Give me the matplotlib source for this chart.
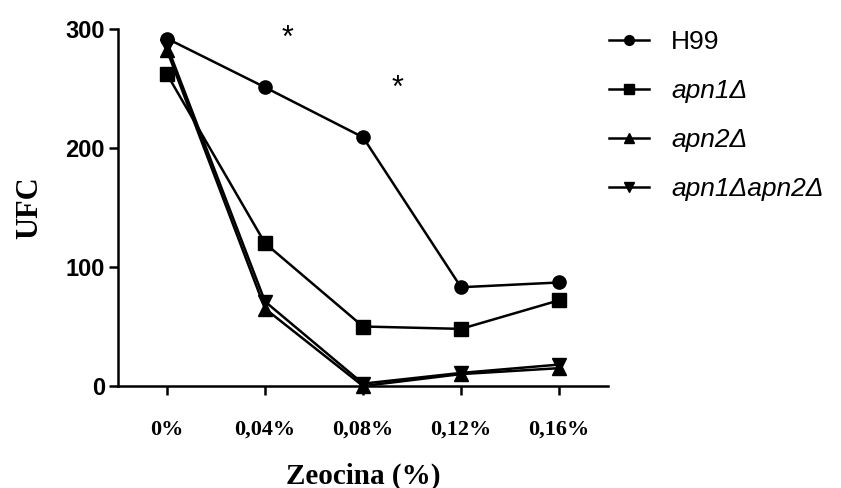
import matplotlib
matplotlib.use("Agg")
import matplotlib.pyplot as plt
from matplotlib.lines import Line2D

categories = ["0%", "0,04%", "0,08%", "0,12%", "0,16%"]
h99 = [292, 251, 209, 83, 87]
apn1 = [262, 120, 50, 48, 72]
apn2 = [282, 65, 0, 10, 15]
apn1apn2 = [286, 71, 2, 11, 18]
series_labels = ["H99", "apn1Δ", "apn2Δ", "apn1Δapn2Δ"]
star_positions = [1.23, 2.35]
star_values = [292, 250]
yticks = [0, 100, 200, 300]

fig = plt.figure(figsize=(8.41, 4.88), dpi=100)
ax = fig.add_axes([0.1403, 0.209, 0.723 - 0.1403, 0.9406 - 0.209])

x = list(range(len(categories)))
markers = ["o", "s", "^", "v"]
data = [h99, apn1, apn2, apn1apn2]
order = [3, 2, 1, 0]
for i in order:
    ax.plot(x, data[i], color="black", lw=1.8, marker=markers[i], ms=9.5,
            clip_on=False, zorder=3 + (3 - i))

for p, v in zip(star_positions, star_values):
    ax.text(p, v, "*", ha="center", va="center", fontsize=22,
            family="Liberation Sans", clip_on=False)

ax.set_xlim(-0.5, 4.5)
ax.set_ylim(0, 300)
ax.set_xticks(x)
ax.set_xticklabels(categories, family="Liberation Serif", fontweight="bold", fontsize=16)
ax.set_yticks(yticks)
ax.set_yticklabels([str(t) for t in yticks], family="Liberation Sans", fontweight="bold", fontsize=17)
ax.tick_params(axis="both", direction="out", length=6.5, width=1.8, color="black")
ax.tick_params(axis="x", pad=18)
ax.tick_params(axis="y", pad=3)
for s in ["top", "right"]:
    ax.spines[s].set_visible(False)
for s in ["left", "bottom"]:
    ax.spines[s].set_linewidth(1.8)

ax.set_xlabel("Zeocina (%)", family="Liberation Serif", fontweight="bold", fontsize=21, labelpad=16)
ax.set_ylabel("UFC", family="Liberation Serif", fontweight="bold", fontsize=22, labelpad=15)

handles = [Line2D([0], [0], color="black", lw=1.8, marker=m, ms=7) for m in markers]
leg = fig.legend(handles, series_labels, loc="upper left", bbox_to_anchor=(0.715, 0.955),
                 frameon=False, handlelength=1.5, handletextpad=0.85, labelspacing=0.95,
                 borderaxespad=0, borderpad=0.3,
                 prop={"family": "Liberation Sans", "size": 19})
for t in leg.get_texts()[1:]:
    t.set_fontstyle("italic")

fig.savefig("out.png", dpi=100)
